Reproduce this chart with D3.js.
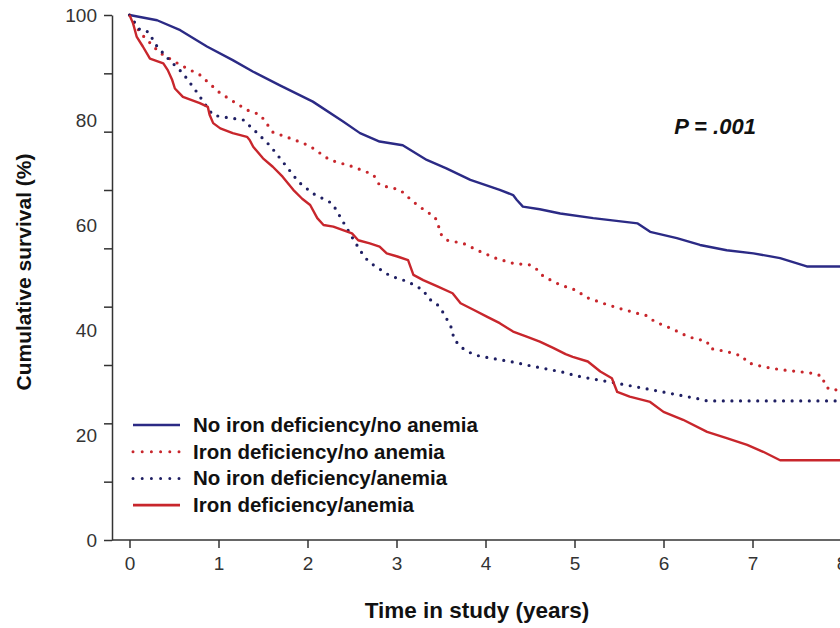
<!DOCTYPE html>
<html>
<head>
<meta charset="utf-8">
<script src="https://cdn.jsdelivr.net/npm/d3@7/dist/d3.min.js"></script>
<style>
	body { margin: 0; background: #fff; }
	svg { display: block; font-family: "Liberation Sans", Arial, sans-serif; }
	.axis path, .axis line { stroke: #333; stroke-width: 1.5; }
	.axis text { fill: #333; font-size: 19px; }
</style>
</head>
<body>
<svg width="840" height="628"></svg>
<script>

var seriesNames = [
	"No iron deficiency/no anemia",
	"Iron deficiency/no anemia",
	"No iron deficiency/anemia",
	"Iron deficiency/anemia"
];
var seriesColors = ["#2b2a85", "#c8262c", "#1f1f63", "#c8262c"];
var seriesDotted = [false, true, true, false];

// [years, survival %]
var noIdNoAnemia = [
	[0, 100], [0.31, 99.0], [0.57, 97.1], [0.87, 94.0], [1.16, 91.4], [1.39, 89.2],
	[1.69, 86.6], [2.06, 83.5], [2.40, 79.7], [2.59, 77.5], [2.81, 75.9], [3.07, 75.2],
	[3.34, 72.4], [3.56, 70.8], [3.83, 68.6], [4.16, 66.7], [4.31, 65.7], [4.35, 64.8],
	[4.42, 63.5], [4.61, 63.0], [4.84, 62.2], [5.21, 61.3], [5.71, 60.3], [5.85, 58.7],
	[6.15, 57.5], [6.41, 56.2], [6.71, 55.2], [7.01, 54.6], [7.31, 53.7], [7.61, 52.1],
	[8.0, 52.1]
];
var idNoAnemia = [
	[0, 100], [0.12, 96.6], [0.34, 92.8], [0.57, 90.5], [0.79, 88.6], [1.02, 85.1],
	[1.32, 81.9], [1.47, 81.0], [1.61, 77.7], [1.92, 75.8], [2.03, 75.0], [2.25, 72.4],
	[2.51, 71.1], [2.74, 69.6], [2.81, 67.6], [3.04, 66.7], [3.19, 64.4], [3.34, 62.5],
	[3.43, 61.6], [3.47, 60.0], [3.49, 58.4], [3.57, 57.1], [3.75, 56.5], [3.92, 55.1],
	[4.11, 53.7], [4.31, 52.7], [4.50, 52.4], [4.59, 51.4], [4.65, 50.2], [4.84, 48.6],
	[5.03, 47.5], [5.12, 46.3], [5.32, 45.1], [5.51, 44.1], [5.70, 43.2], [5.82, 42.7],
	[5.90, 41.6], [6.10, 40.2], [6.28, 38.7], [6.49, 37.8], [6.52, 36.5], [6.71, 35.9],
	[6.89, 35.0], [6.94, 33.8], [7.12, 33.0], [7.33, 32.4], [7.51, 32.1], [7.70, 31.7],
	[7.79, 31.1], [7.81, 29.5], [7.87, 28.6], [8.0, 28.6]
];
var noIdAnemia = [
	[0, 100], [0.12, 97.1], [0.21, 96.8], [0.31, 94.0], [0.45, 91.4], [0.60, 88.9],
	[0.74, 85.7], [0.87, 82.5], [0.94, 80.9], [1.16, 80.3], [1.28, 80.0], [1.43, 77.6],
	[1.58, 75.1], [1.72, 72.1], [1.90, 68.2], [2.06, 66.0], [2.28, 64.1], [2.39, 60.9],
	[2.50, 57.7], [2.59, 55.2], [2.65, 53.7], [2.74, 52.4], [2.93, 50.3], [3.13, 49.2],
	[3.30, 47.6], [3.36, 46.0], [3.46, 44.8], [3.53, 43.2], [3.58, 41.6], [3.63, 40.0],
	[3.64, 38.4], [3.72, 36.8], [3.80, 35.9], [3.89, 35.2], [4.07, 34.6], [4.28, 34.0],
	[4.47, 33.3], [4.65, 32.7], [4.86, 32.0], [5.04, 31.2], [5.23, 30.6], [5.43, 30.0],
	[5.62, 29.4], [5.81, 28.8], [6.02, 28.1], [6.21, 27.5], [6.39, 26.9], [6.49, 26.5],
	[8.0, 26.5]
];
var idAnemia = [
	[0, 100], [0.04, 98.4], [0.08, 95.9], [0.15, 94.0], [0.23, 91.7], [0.38, 90.8],
	[0.43, 89.5], [0.48, 87.6], [0.51, 86.0], [0.60, 84.4], [0.79, 83.2], [0.88, 82.5],
	[0.90, 81.0], [0.94, 79.4], [1.02, 78.4], [1.16, 77.5], [1.32, 76.8], [1.35, 76.2],
	[1.39, 74.9], [1.50, 72.7], [1.61, 71.1], [1.72, 69.2], [1.84, 66.7], [1.94, 65.0],
	[2.03, 63.8], [2.11, 61.3], [2.18, 60.0], [2.29, 59.7], [2.50, 58.4], [2.57, 57.1],
	[2.70, 56.5], [2.81, 55.9], [2.89, 54.6], [3.01, 54.0], [3.13, 53.3], [3.19, 50.5],
	[3.30, 49.5], [3.46, 48.3], [3.63, 47.0], [3.72, 45.1], [3.87, 43.8], [4.02, 42.5],
	[4.16, 41.3], [4.31, 39.7], [4.47, 38.7], [4.61, 37.8], [4.76, 36.6], [4.90, 35.4],
	[4.98, 34.9], [5.15, 34.0], [5.29, 32.1], [5.42, 30.8], [5.48, 28.2], [5.62, 27.3],
	[5.85, 26.3], [6.00, 24.4], [6.22, 22.9], [6.49, 20.6], [6.71, 19.4], [6.94, 18.1],
	[7.12, 16.8], [7.31, 15.2], [8.0, 15.2]
];
var seriesValues = [noIdNoAnemia, idNoAnemia, noIdAnemia, idAnemia];

var xTicks = [0, 1, 2, 3, 4, 5, 6, 7, 8];
var yLabels = [0, 20, 40, 60, 80, 100];
var pValueText = "P = .001";

var svg = d3.select("svg");

var x = d3.scaleLinear().domain([0, 8]).range([129.5, 841.5]);
var y = d3.scaleLinear().domain([0, 100]).range([540, 15]);
// the tick marks on the y axis do not line up with the labels in the original
var yTickPos = d3.scaleLinear().domain([0, 9]).range([540, 15]);

// x axis
var xAxis = svg.append("g")
	.attr("class", "axis")
	.attr("transform", "translate(0,540)")
	.call(d3.axisBottom(x).tickValues(xTicks).tickSize(8).tickPadding(9).tickSizeOuter(0));
xAxis.select(".domain").attr("d", "M112,0H840");

// y axis: line + tick marks
svg.append("g")
	.attr("class", "axis")
	.attr("transform", "translate(112,0)")
	.call(d3.axisLeft(yTickPos).tickValues(d3.range(10)).tickSize(8).tickSizeOuter(0).tickFormat(""));

// y axis labels
svg.append("g")
	.attr("class", "axis")
	.attr("transform", "translate(112,0)")
	.call(d3.axisLeft(y).tickValues(yLabels).tickSize(0).tickPadding(15))
	.call(function(g) { g.select(".domain").remove(); });

// titles
svg.append("text")
	.attr("x", 477)
	.attr("y", 618)
	.attr("text-anchor", "middle")
	.attr("font-weight", "bold")
	.attr("font-size", 22.5)
	.attr("fill", "#111")
	.text("Time in study (years)");

svg.append("text")
	.attr("transform", "translate(31,272) rotate(-90)")
	.attr("text-anchor", "middle")
	.attr("font-weight", "bold")
	.attr("font-size", 21)
	.attr("fill", "#111")
	.text("Cumulative survival (%)");

svg.append("text")
	.attr("x", 715)
	.attr("y", 134)
	.attr("text-anchor", "middle")
	.attr("font-weight", "bold")
	.attr("font-style", "italic")
	.attr("font-size", 22)
	.attr("fill", "#111")
	.text(pValueText);

// curves
var line = d3.line()
	.x(function(d) { return x(d[0]); })
	.y(function(d) { return y(d[1]); });

svg.append("g")
	.selectAll("path")
	.data(seriesValues)
	.enter().append("path")
		.attr("d", line)
		.attr("fill", "none")
		.attr("stroke", function(d, i) { return seriesColors[i]; })
		.attr("stroke-width", function(d, i) { return seriesDotted[i] ? 3.2 : 2.4; })
		.attr("stroke-linecap", function(d, i) { return seriesDotted[i] ? "round" : "butt"; })
		.attr("stroke-linejoin", "round")
		.attr("stroke-dasharray", function(d, i) { return seriesDotted[i] ? "0 8.6" : null; });

// legend
var legend = svg.append("g")
	.selectAll("g")
	.data(seriesNames)
	.enter().append("g")
		.attr("transform", function(d, i) { return "translate(133," + (425 + i * 26.7) + ")"; });

legend.append("line")
	.attr("x1", 0)
	.attr("x2", 47)
	.attr("stroke", function(d, i) { return seriesColors[i]; })
	.attr("stroke-width", function(d, i) { return seriesDotted[i] ? 3 : 2.6; })
	.attr("stroke-linecap", function(d, i) { return seriesDotted[i] ? "round" : "butt"; })
	.attr("stroke-dasharray", function(d, i) { return seriesDotted[i] ? "0 9.2" : null; });

legend.append("text")
	.attr("x", 60)
	.attr("y", 7)
	.attr("font-weight", "bold")
	.attr("font-size", 20.5)
	.attr("fill", "#111")
	.text(function(d) { return d; });

</script>
</body>
</html>
